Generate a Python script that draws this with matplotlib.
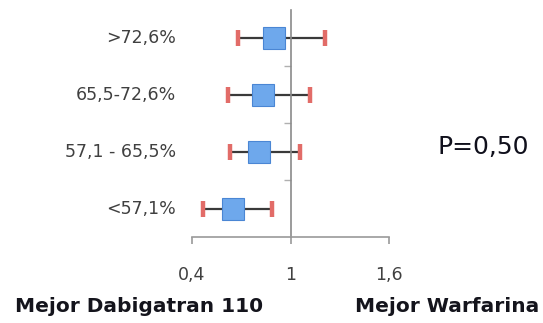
import matplotlib.pyplot as plt
import matplotlib.transforms as mtransforms
import numpy as np

# Hazard ratio by TTR quartile (Dabigatran 110 vs Warfarina)
grupos = ['<57,1%', '57,1 - 65,5%', '65,5-72,6%', '>72,6%']
hr = [0.65, 0.81, 0.83, 0.90]
ic_inf = [0.47, 0.63, 0.62, 0.68]
ic_sup = [0.89, 1.06, 1.12, 1.21]
ticks_x = [0.4, 1.0, 1.6]
ticks_txt = ['0,4', '1', '1,6']

W, H = 543, 323
fig = plt.figure(figsize=(W / 100, H / 100), dpi=100)
ax = fig.add_axes([192 / W, 1 - 237 / H, (389 - 192) / W, (237 - 9.5) / H])

y = np.arange(len(grupos))

# whiskers, red caps and blue squares
ax.hlines(y, ic_inf, ic_sup, color='#3a3a3a', lw=1.6, zorder=2)
ax.plot(ic_inf, y, ls='none', marker='|', ms=11, mew=3.2, color='#e26c68', zorder=3)
ax.plot(ic_sup, y, ls='none', marker='|', ms=11, mew=3.2, color='#e26c68', zorder=3)
ax.plot(hr, y, ls='none', marker='s', ms=16, mew=0.8,
        markerfacecolor='#6ea8ec', markeredgecolor='#4a86d4', zorder=4)

ax.set_xlim(0.4, 1.6)
ax.set_ylim(-0.5, len(grupos) - 0.5)

for s in ['top', 'right']:
    ax.spines[s].set_visible(False)
ax.spines['left'].set_position(('data', 1))
ax.spines['left'].set_color('#8a8a8a')
ax.spines['left'].set_linewidth(1.2)
ax.spines['bottom'].set_color('#9a9a9a')
ax.spines['bottom'].set_linewidth(1.2)

ax.set_xticks(ticks_x)
ax.set_xticklabels([])
ax.tick_params(axis='x', length=5, width=1.2, color='#9a9a9a')
ax.set_yticks(np.arange(len(grupos) - 1) + 0.5)
ax.set_yticklabels([])
ax.tick_params(axis='y', length=5, width=1, color='#b0b0b0')

# category labels, right aligned at a fixed pixel column
lab_tr = mtransforms.blended_transform_factory(fig.transFigure, ax.transData)
for yi, g in zip(y, grupos):
    ax.text(176 / W, yi, g, transform=lab_tr,
            ha='right', va='center', fontsize=12.5, color='#404040')

# tick labels below the axis
tick_tr = mtransforms.blended_transform_factory(ax.transData, fig.transFigure)
for xv, t in zip(ticks_x, ticks_txt):
    ax.text(xv, 1 - 275 / H, t, transform=tick_tr,
            ha='center', va='center', fontsize=12.5, color='#404040')

fig.text(438 / W, 1 - 147 / H, 'P=0,50', ha='left', va='center',
         fontsize=18, color='#10101c')
fig.text(15 / W, 1 - 307 / H, 'Mejor Dabigatran 110', ha='left', va='center',
         fontsize=14.5, fontweight='bold', color='#14141c')
fig.text(355 / W, 1 - 307 / H, 'Mejor Warfarina', ha='left', va='center',
         fontsize=14.5, fontweight='bold', color='#14141c')

fig.savefig('out.png', dpi=100)
